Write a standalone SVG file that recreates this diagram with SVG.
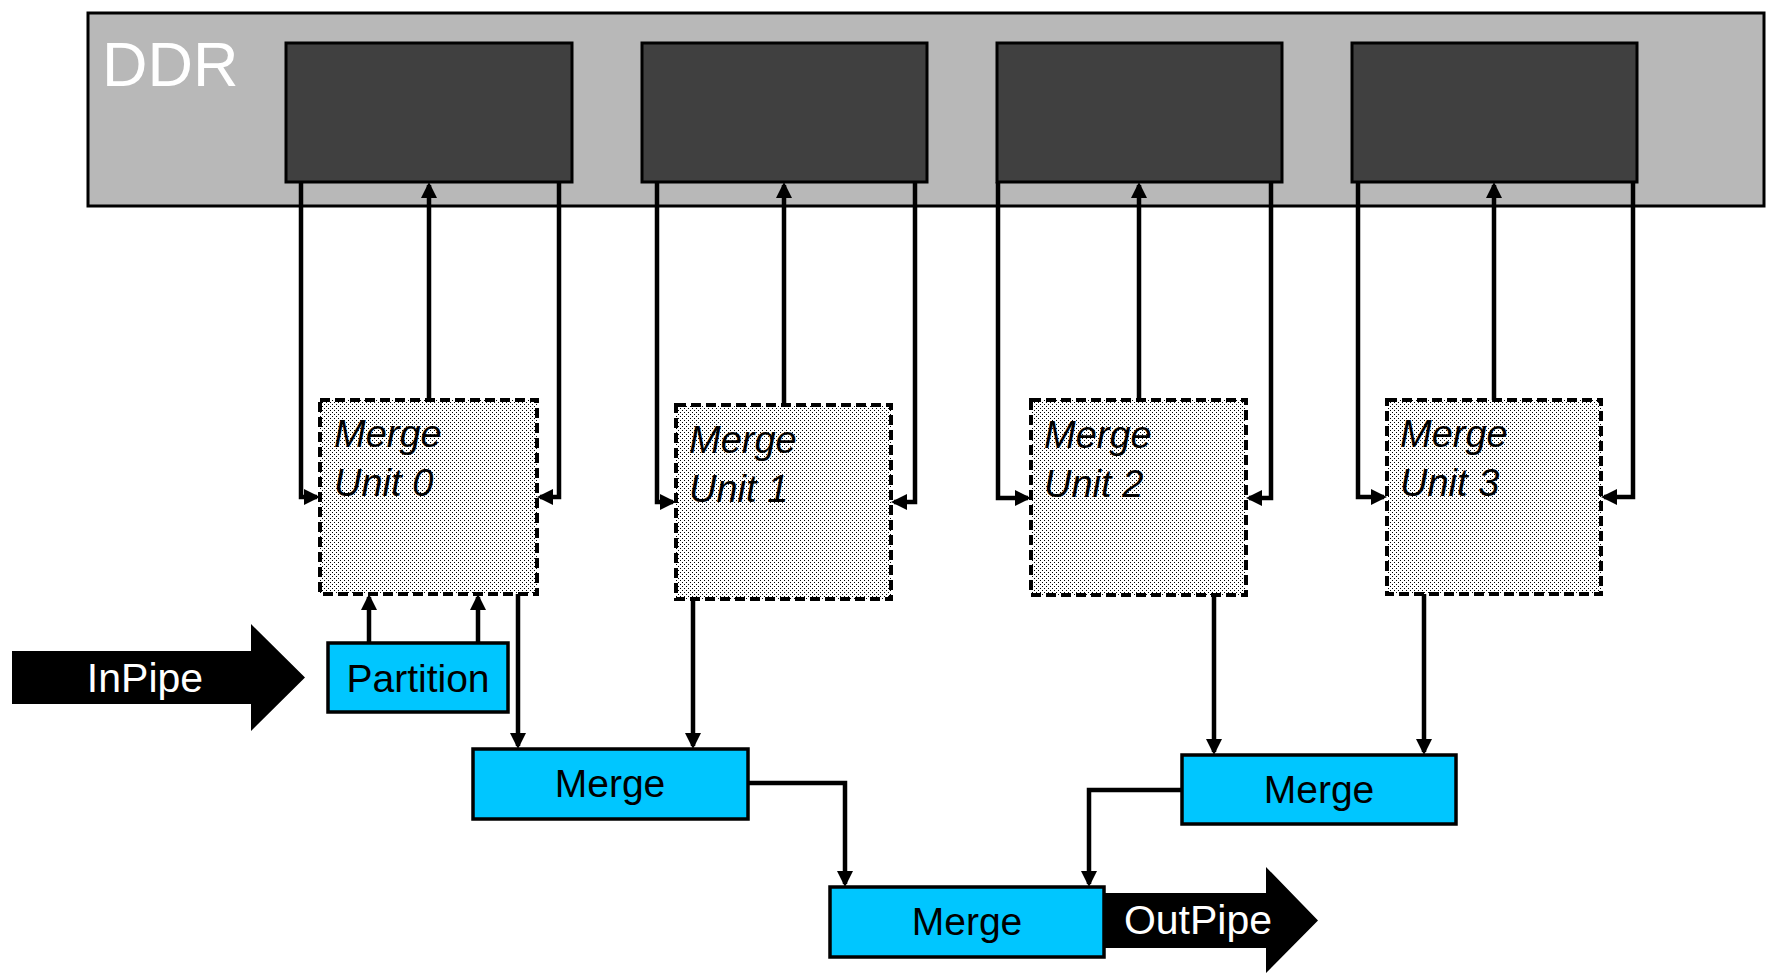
<svg xmlns="http://www.w3.org/2000/svg" width="1772" height="977" viewBox="0 0 1772 977">
<style>
.t{font-family:"Liberation Sans",Arial,sans-serif}
.ddr{fill:#b8b8b8;stroke:#000;stroke-width:3}
.bank{fill:#404040;stroke:#000;stroke-width:3}
.unit{fill:url(#dots);stroke:#000;stroke-width:4;stroke-dasharray:10 5}
.blk{fill:#00c6ff;stroke:#000;stroke-width:3.5}
.c{fill:none;stroke:#000;stroke-width:4.5;marker-end:url(#ah)}
.ut{font-size:38px;font-style:italic;fill:#000}
.bt{font-size:39px;fill:#000;text-anchor:middle}
.wt{fill:#fff;text-anchor:middle}
</style>
<defs>
<pattern id="dots" width="4" height="4" patternUnits="userSpaceOnUse">
<rect width="4" height="4" fill="#fff"/>
<rect x="0" y="0" width="1" height="1" fill="#000"/>
<rect x="2" y="2" width="1" height="1" fill="#000"/>
</pattern>
<marker id="ah" markerUnits="userSpaceOnUse" markerWidth="17" markerHeight="16" refX="13" refY="8" orient="auto">
<path d="M0,0 L16,8 L0,16 z" fill="#000"/>
</marker>
</defs>

<g id="ddr">
<rect class="ddr" x="88" y="13" width="1676" height="193"/>
<text class="t" x="102" y="86" font-size="63" fill="#fff">DDR</text>
</g>
<g id="bank0"><rect class="bank" x="286" y="43" width="286" height="139"/></g>
<g id="bank1"><rect class="bank" x="642" y="43" width="285" height="139"/></g>
<g id="bank2"><rect class="bank" x="997" y="43" width="285" height="139"/></g>
<g id="bank3"><rect class="bank" x="1352" y="43" width="285" height="139"/></g>

<g id="inpipe">
<polygon points="12,651 251,651 251,624 305,677.5 251,731 251,704 12,704" fill="#000"/>
<text class="t wt" x="145" y="692" font-size="41">InPipe</text>
</g>

<g id="outpipe">
<polygon points="1100,893 1266,893 1266,867 1318,920.5 1266,973 1266,948 1100,948" fill="#000"/>
<text class="t wt" x="1198" y="934" font-size="41">OutPipe</text>
</g>

<g id="unit0">
<rect class="unit" x="320" y="400" width="217" height="194"/>
<text class="t ut" x="334" y="447">Merge</text>
<text class="t ut" x="334" y="496">Unit 0</text>
</g>
<g id="unit1">
<rect class="unit" x="676" y="405" width="215" height="194"/>
<text class="t ut" x="689" y="453">Merge</text>
<text class="t ut" x="689" y="502">Unit 1</text>
</g>
<g id="unit2">
<rect class="unit" x="1031" y="400" width="215" height="195"/>
<text class="t ut" x="1044" y="448">Merge</text>
<text class="t ut" x="1044" y="497">Unit 2</text>
</g>
<g id="unit3">
<rect class="unit" x="1387" y="400" width="214" height="194"/>
<text class="t ut" x="1400" y="447">Merge</text>
<text class="t ut" x="1400" y="496">Unit 3</text>
</g>

<g id="partition">
<rect class="blk" x="328" y="643" width="180" height="69"/>
<text class="t bt" x="418" y="692">Partition</text>
</g>
<g id="merge1">
<rect class="blk" x="473" y="749" width="275" height="70"/>
<text class="t bt" x="610" y="797">Merge</text>
</g>
<g id="merge2">
<rect class="blk" x="1182" y="755" width="274" height="69"/>
<text class="t bt" x="1319" y="803">Merge</text>
</g>
<g id="merge3">
<rect class="blk" x="830" y="887" width="274" height="70"/>
<text class="t bt" x="967" y="935">Merge</text>
</g>

<g id="connectors">
<path class="c" d="M301,182 V497 H317"/>
<path class="c" d="M429,400 V185"/>
<path class="c" d="M559,182 V497 H540"/>
<path class="c" d="M369,643 V597"/>
<path class="c" d="M478,643 V597"/>
<path class="c" d="M518,594 V746"/>

<path class="c" d="M657,182 V502 H673"/>
<path class="c" d="M784,405 V185"/>
<path class="c" d="M915,182 V502 H894"/>
<path class="c" d="M693,599 V746"/>

<path class="c" d="M998,182 V498 H1028"/>
<path class="c" d="M1139,400 V185"/>
<path class="c" d="M1271,182 V498 H1249"/>
<path class="c" d="M1214,595 V752"/>

<path class="c" d="M1358,182 V497 H1384"/>
<path class="c" d="M1494,400 V185"/>
<path class="c" d="M1633,182 V497 H1604"/>
<path class="c" d="M1424,594 V752"/>

<path class="c" d="M748,783 H845 V884"/>
<path class="c" d="M1182,790 H1089 V884"/>
</g>
</svg>
